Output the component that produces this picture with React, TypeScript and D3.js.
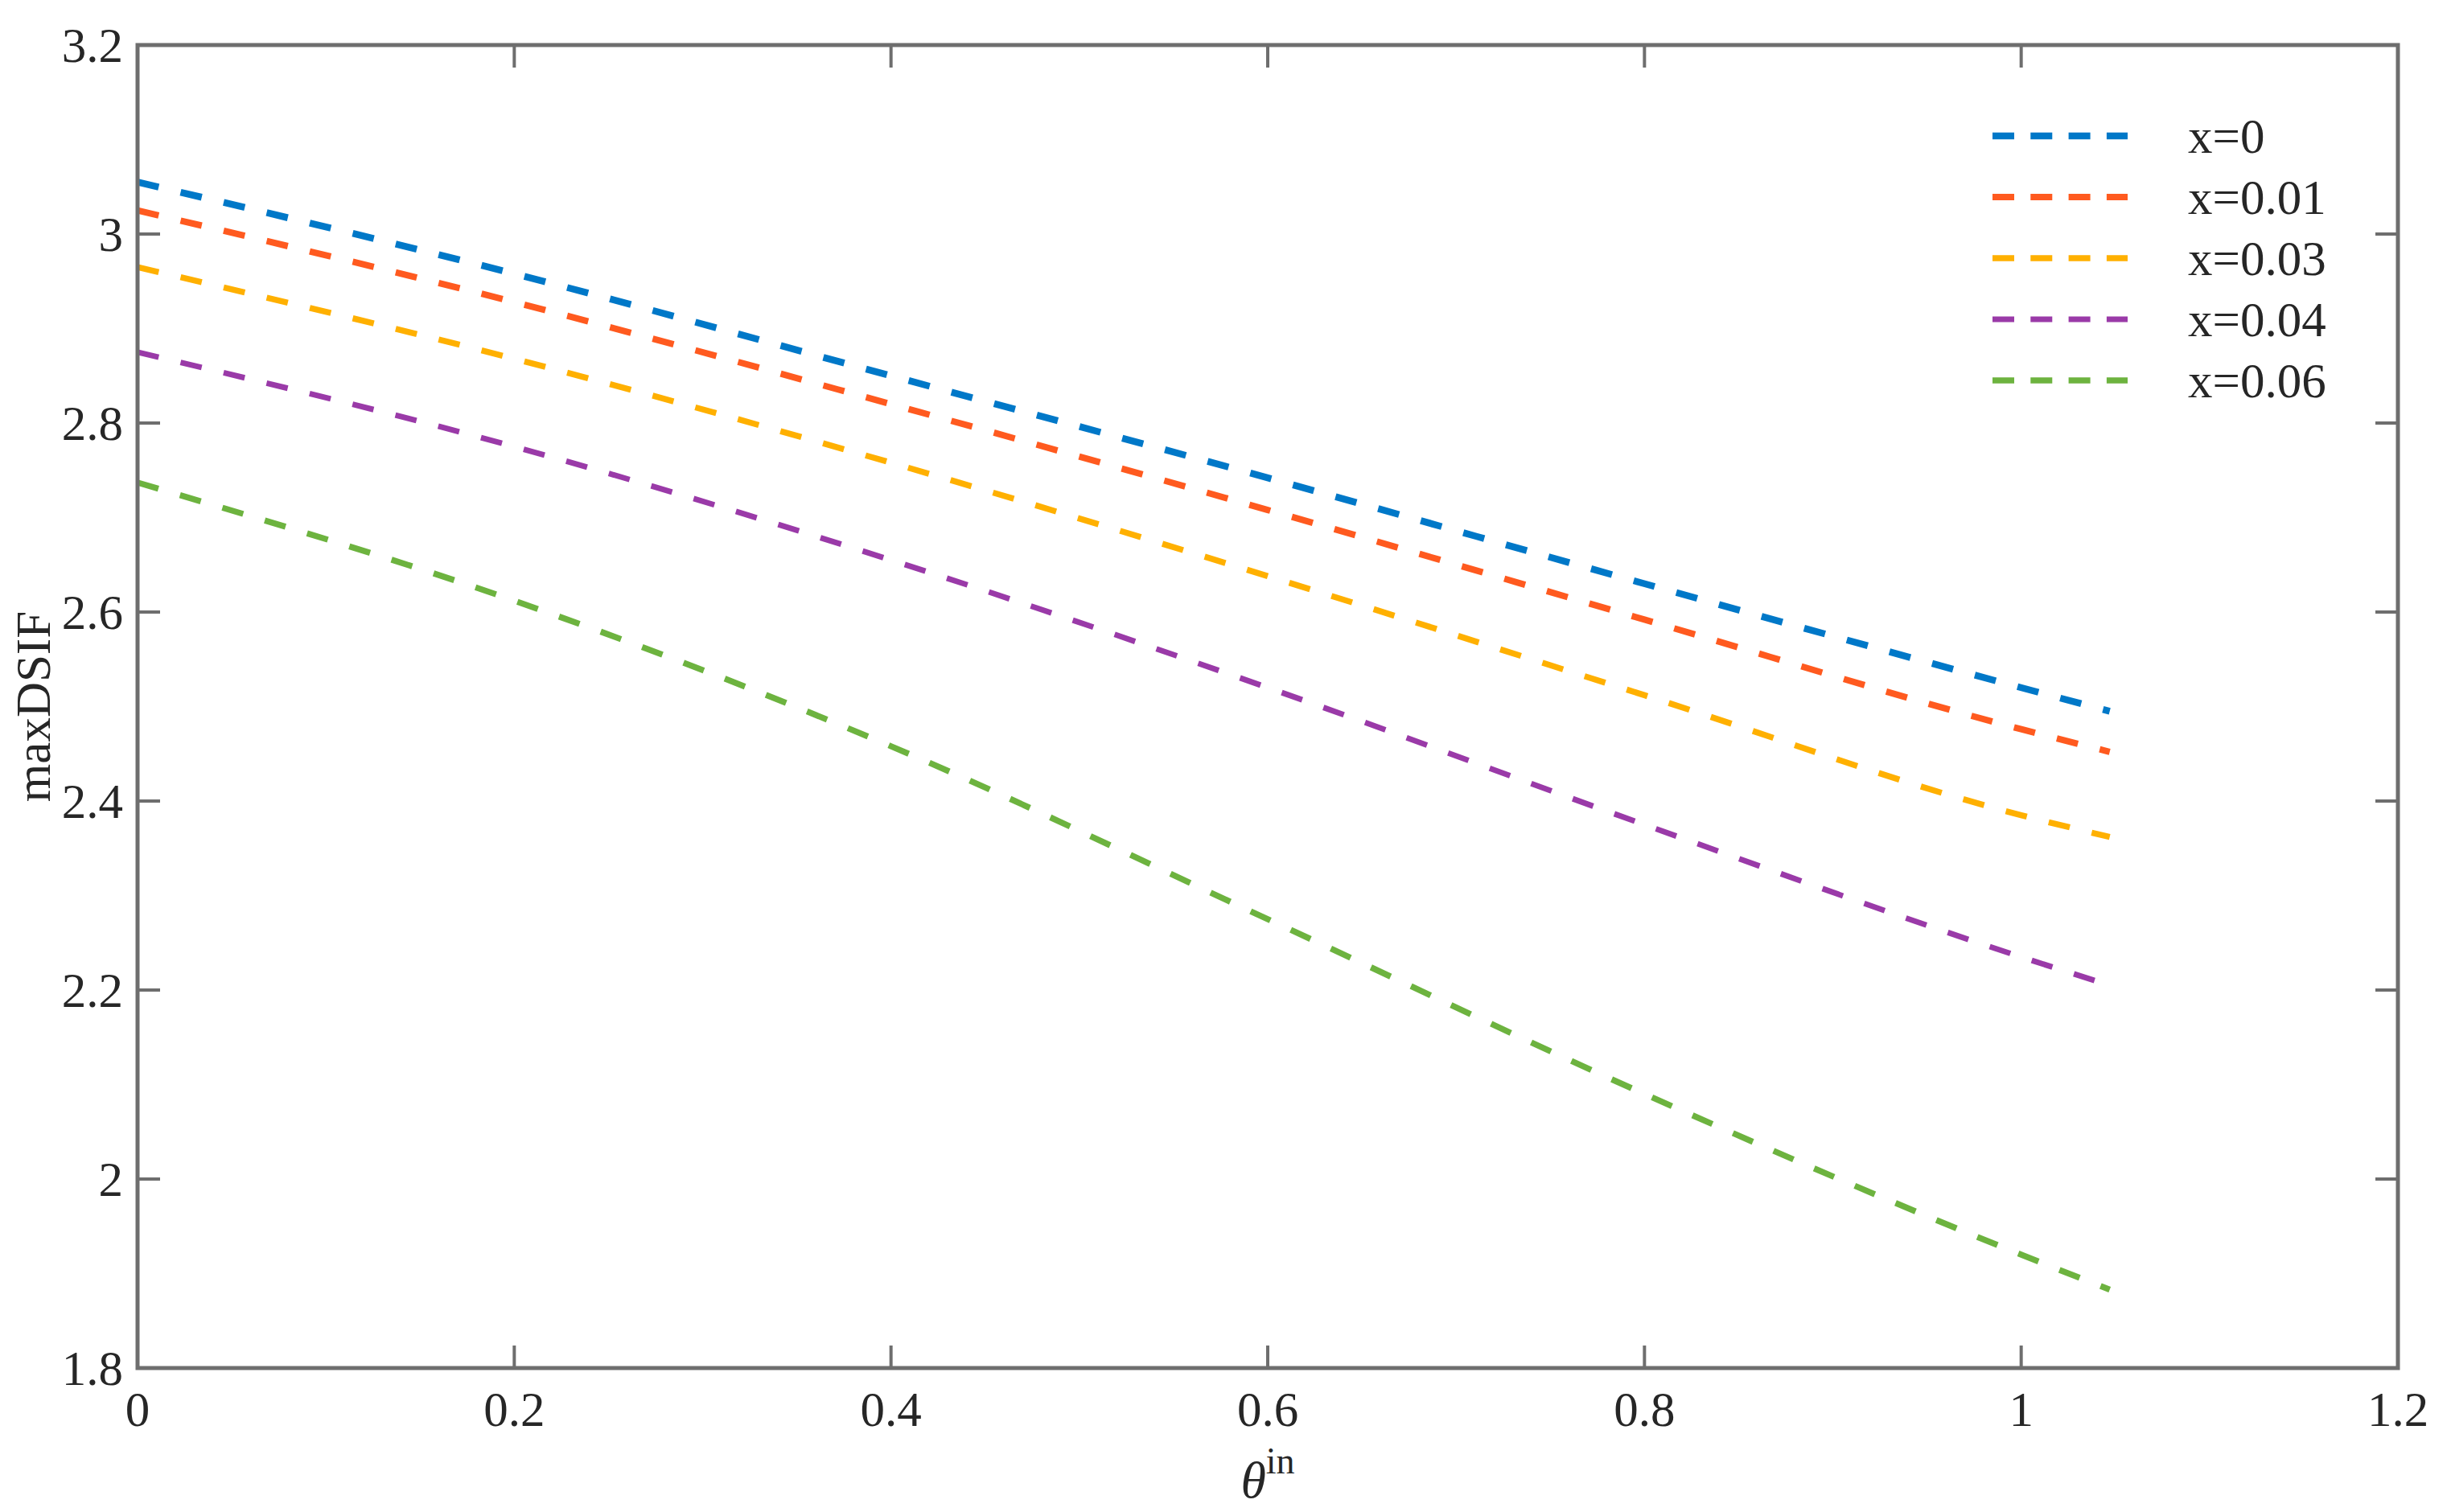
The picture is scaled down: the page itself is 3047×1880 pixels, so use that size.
import React from "react";
import * as d3 from "d3";

const thetaValues = [0, 0.2, 0.4, 0.6, 0.8, 1.0, 1.047];
const seriesNames = ["x=0", "x=0.01", "x=0.03", "x=0.04", "x=0.06"];
const seriesColors = ["#0078C8", "#FF5A1F", "#FFB000", "#9A3AA8", "#6DB33F"];
const seriesWidths = [8.5, 8, 7.5, 7, 7.5];
const s0 = [3.055, 2.958, 2.85, 2.742, 2.63, 2.52, 2.495];
const s1 = [3.025, 2.928, 2.82, 2.708, 2.592, 2.476, 2.452];
const s3 = [2.965, 2.868, 2.758, 2.638, 2.512, 2.385, 2.362];
const s4 = [2.875, 2.775, 2.655, 2.52, 2.375, 2.235, 2.205];
const s6 = [2.737, 2.612, 2.458, 2.275, 2.09, 1.92, 1.883];
const seriesValues = [s0, s1, s3, s4, s6];
const xTicks = [0, 0.2, 0.4, 0.6, 0.8, 1, 1.2];
const yTicks = [1.8, 2, 2.2, 2.4, 2.6, 2.8, 3, 3.2];

const W = 3047, H = 1880;
const L = 171, R = 2981, T = 56, B = 1701;
const FONT = "'Liberation Serif', 'Times New Roman', serif";

export default function App() {
  const x = d3.scaleLinear().domain([0, 1.2]).range([L, R]);
  const y = d3.scaleLinear().domain([1.8, 3.2]).range([B, T]);
  const line = d3.line<[number, number]>()
    .x(d => x(d[0]))
    .y(d => y(d[1]))
    .curve(d3.curveMonotoneX);
  const tickLen = 28;
  const axisColor = "#6e6e6e";
  const textColor = "#262626";
  const fs = 61;
  const legendX0 = 2477, legendX1 = 2645, legendTextX = 2720;
  const legendY0 = 169, legendDy = 76;

  return (
    <svg width={W} height={H} style={{ position: "absolute", left: 0, top: 0, background: "#fff" }}>
      <rect x={0} y={0} width={W} height={H} fill="#fff" />
      {seriesValues.map((vals, i) => (
        <path
          key={i}
          d={line(thetaValues.map((t, j) => [t, vals[j]] as [number, number])) || ""}
          fill="none"
          stroke={seriesColors[i]}
          strokeWidth={seriesWidths[i]}
          strokeDasharray="27 28"
          strokeLinecap="butt"
        />
      ))}
      {xTicks.map((t, i) => (
        <g key={"xt" + i}>
          <line x1={x(t)} x2={x(t)} y1={B} y2={B - tickLen} stroke={axisColor} strokeWidth={4} />
          <line x1={x(t)} x2={x(t)} y1={T} y2={T + tickLen} stroke={axisColor} strokeWidth={4} />
          <text x={x(t)} y={1773} textAnchor="middle" fontFamily={FONT} fontSize={fs} fill={textColor}>
            {String(t)}
          </text>
        </g>
      ))}
      {yTicks.map((t, i) => (
        <g key={"yt" + i}>
          <line x1={L} x2={L + tickLen} y1={y(t)} y2={y(t)} stroke={axisColor} strokeWidth={4} />
          <line x1={R} x2={R - tickLen} y1={y(t)} y2={y(t)} stroke={axisColor} strokeWidth={4} />
          <text x={153} y={y(t) + 21} textAnchor="end" fontFamily={FONT} fontSize={fs} fill={textColor}>
            {String(t)}
          </text>
        </g>
      ))}
      <rect x={L} y={T} width={R - L} height={B - T} fill="none" stroke={axisColor} strokeWidth={5} />
      {seriesNames.map((n, i) => (
        <g key={"lg" + i}>
          <line
            x1={legendX0}
            x2={legendX1}
            y1={legendY0 + i * legendDy}
            y2={legendY0 + i * legendDy}
            stroke={seriesColors[i]}
            strokeWidth={seriesWidths[i]}
            strokeDasharray="27 20.3"
          />
          <text x={legendTextX} y={legendY0 + i * legendDy + 21} fontFamily={FONT} fontSize={fs} fill={textColor}>
            {n}
          </text>
        </g>
      ))}
      <text
        transform={`translate(62, ${(T + B) / 2}) rotate(-90)`}
        textAnchor="middle"
        fontFamily={FONT}
        fontSize={fs}
        fill={textColor}
      >
        maxDSIF
      </text>
      <text x={1576} y={1862} textAnchor="middle" fontFamily={FONT} fontSize={64} fill={textColor}>
        <tspan fontStyle="italic">θ</tspan>
        <tspan fontSize={46} dy={-30}>in</tspan>
      </text>
    </svg>
  );
}
